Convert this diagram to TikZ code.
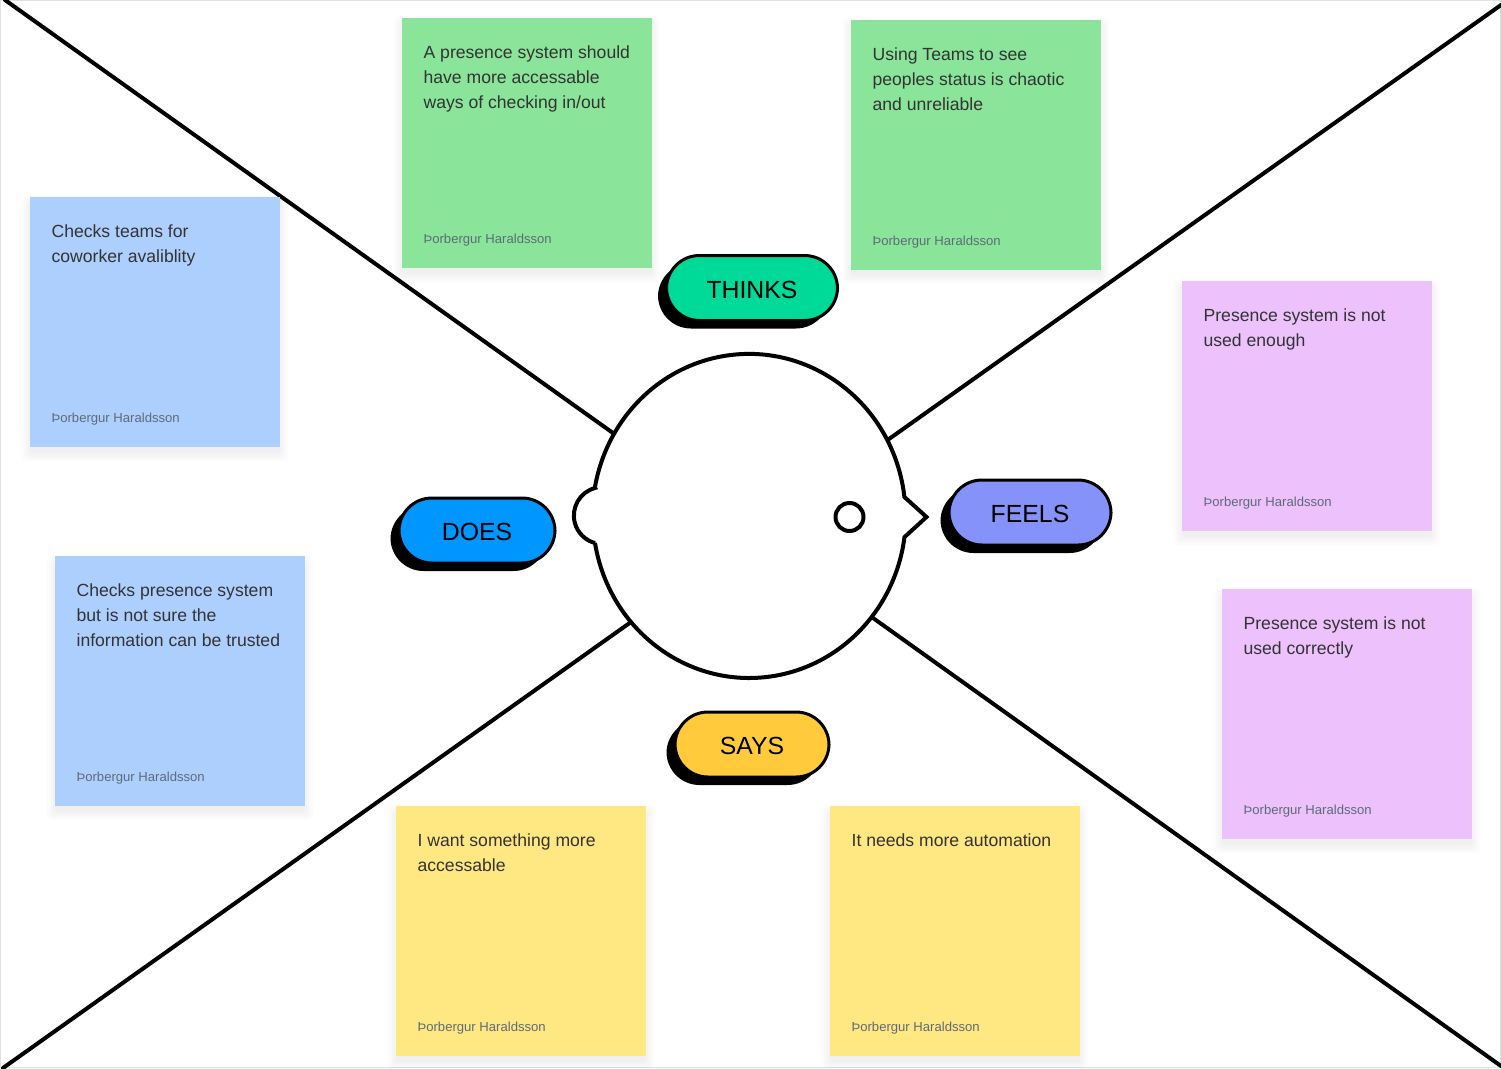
\documentclass[tikz,border=0pt]{standalone}
\usepackage{fontspec}
\setmainfont{Liberation Sans}
\usetikzlibrary{calc,shadows}
\definecolor{stickygreen}{HTML}{8AE49A}
\definecolor{stickyblue}{HTML}{ADCFFE}
\definecolor{stickypurple}{HTML}{ECC1FC}
\definecolor{stickyyellow}{HTML}{FFE782}
\definecolor{pillgreen}{HTML}{00DA99}
\definecolor{pillblue}{HTML}{0096FF}
\definecolor{pillpurple}{HTML}{8592FA}
\definecolor{pillyellow}{HTML}{FFCB3D}
\definecolor{notetext}{HTML}{333333}
\definecolor{muted}{HTML}{5F6B78}
\tikzset{
  Pill/.style={
    draw=black, line width=3pt,
    rounded corners=33pt,
    minimum height=65pt,
    inner sep=0pt,
    text height=20pt, text depth=0pt,
    font=\fontsize{24.8}{30}\selectfont,
    general shadow={fill=black, shadow xshift=-8.5pt, shadow yshift=-8pt}
  },
  Wedge/.style={line width=4pt, line cap=round},
  StickyBody/.style={minimum size=250pt, inner sep=0pt, outer sep=0pt},
  StickyText/.style={
    inner sep=0pt, align=left, text=notetext,
    font=\fontsize{17.6}{25}\selectfont
  },
  StickyName/.style={
    inner sep=0pt, text=muted,
    font=\fontsize{13.1}{15}\selectfont
  }
}
\newcommand{\StickyNote}[5]{%
  % #1 = node name, #2 = colour, #3 = left, #4 = top, #5 = text
  \foreach \grow in {0,2,...,8}
    \fill[black, opacity=0.012, rounded corners=4pt]
      (#3-\grow,#4+7-\grow) rectangle (#3+250+\grow,#4+256+\grow);
  \node[StickyBody, fill=#2, anchor=north west] (#1) at (#3+0.4,#4+0.4) {};
  \node[StickyText, anchor=north west] (#1text) at ([shift={(21pt,-27.4pt)}]#1.north west) {#5};
  \node[StickyName, anchor=west] (#1name) at ([shift={(21pt,28.4pt)}]#1.south west) {Þorbergur Haraldsson};
}

\begin{document}
\begin{tikzpicture}[x=1pt, y=-1pt, line join=miter]
  \useasboundingbox (0,0) rectangle (1501,1068);
  \draw[black!12, line width=1pt] (0.5,0.5) rectangle (1500.5,1067.5);

  % corners of the sheet
  \coordinate (TL) at (5,0);
  \coordinate (TR) at (1501,5);
  \coordinate (BL) at (3,1068);
  \coordinate (BR) at (1501,1066);
  % where the wedges meet the head
  \coordinate (HeadTL) at (613,433);
  \coordinate (HeadTR) at (889,439);
  \coordinate (HeadBL) at (631,622);
  \coordinate (HeadBR) at (873,618);

  \draw[Wedge] (TL)--(HeadTL);
  \draw[Wedge] (TR)--(HeadTR);
  \draw[Wedge] (BL)--(HeadBL);
  \draw[Wedge] (BR)--(HeadBR);

  % head
  \coordinate (NoseTop) at (904.4,497);
  \coordinate (NoseTip) at (926.5,517);
  \coordinate (EarTop) at (595,488);
  \coordinate (EarBot) at (595,543);
  \draw[line width=4pt, fill=white] (NoseTop)
    arc[start angle=6.7, end angle=170, x radius=156.5pt, y radius=162pt]
    -- (EarTop)
    arc[start angle=105, end angle=255, radius=28.5pt]
    -- (EarBot)
    arc[start angle=189.6, end angle=352.5, x radius=156.5pt, y radius=162pt]
    -- (NoseTip) -- cycle;
  \node[draw=black, line width=4pt, circle, minimum size=28pt, inner sep=0pt, fill=white] (Eye) at (849.5,517) {};

  % labels
  \node[Pill, fill=pillgreen, minimum width=171pt] (Thinks) at (752,288) {THINKS};
  \node[Pill, fill=pillblue, minimum width=156pt] (Does) at (477,530.5) {DOES};
  \node[Pill, fill=pillpurple, minimum width=162pt] (Feels) at (1030,512.5) {FEELS};
  \node[Pill, fill=pillyellow, minimum width=154pt] (Says) at (752,744.5) {SAYS};

  % thinks
  \StickyNote{ThinkA}{stickygreen}{402}{18}{A presence system should\\have more accessable\\ways of checking in/out}
  \StickyNote{ThinkB}{stickygreen}{851}{20}{Using Teams to see\\peoples status is chaotic\\and unreliable}
  % does
  \StickyNote{DoesA}{stickyblue}{30}{197}{Checks teams for\\coworker avaliblity}
  \StickyNote{DoesB}{stickyblue}{55}{556}{Checks presence system\\but is not sure the\\information can be trusted}
  % feels
  \StickyNote{FeelA}{stickypurple}{1182}{281}{Presence system is not\\used enough}
  \StickyNote{FeelB}{stickypurple}{1222}{589}{Presence system is not\\used correctly}
  % says
  \StickyNote{SayA}{stickyyellow}{396}{806}{I want something more\\accessable}
  \StickyNote{SayB}{stickyyellow}{830}{806}{It needs more automation}
\end{tikzpicture}
\end{document}
